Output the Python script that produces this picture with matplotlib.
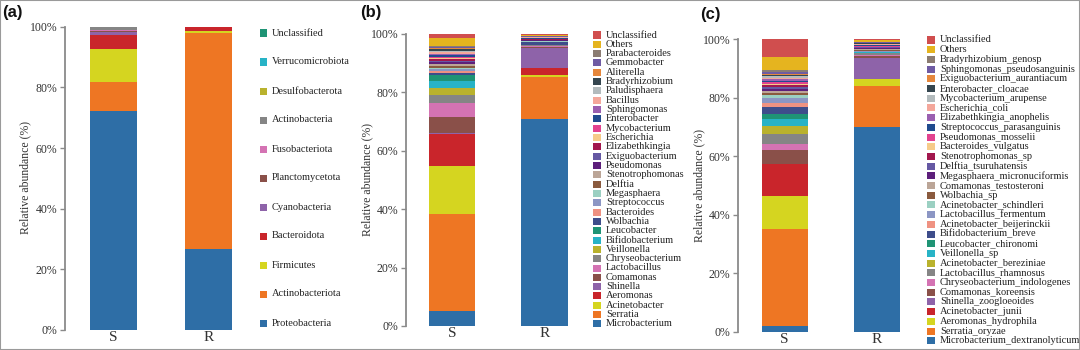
import matplotlib
matplotlib.use("Agg")
import matplotlib.pyplot as plt
from matplotlib.patches import Rectangle
from matplotlib.ticker import FixedLocator, FuncFormatter

samples = ["S", "R"]

# ---------- panel (a): phylum (bottom-up stacking order) ----------
phylum_taxa = ["Proteobacteria", "Actinobacteriota", "Firmicutes", "Bacteroidota",
               "Cyanobacteria", "Planctomycetota", "Fusobacteriota", "Actinobacteria",
               "Desulfobacterota", "Verrucomicrobiota", "Unclassified"]
phylum_S = [72.3, 9.6, 10.9, 4.5, 1.0, 0.4, 0.3, 0.8, 0.1, 0.05, 0.05]
phylum_R = [26.6, 71.4, 0.45, 1.4, 0.04, 0.02, 0.02, 0.03, 0.02, 0.01, 0.01]

# ---------- panel (b): genus ----------
genus_taxa = ["Microbacterium", "Serratia", "Acinetobacter", "Aeromonas", "Shinella",
              "Comamonas", "Lactobacillus", "Chryseobacterium", "Veillonella",
              "Bifidobacterium", "Leucobacter", "Wolbachia", "Bacteroides",
              "Streptococcus", "Megasphaera", "Delftia", "Stenotrophomonas",
              "Pseudomonas", "Exiguobacterium", "Elizabethkingia", "Escherichia",
              "Mycobacterium", "Enterobacter", "Sphingomonas", "Bacillus",
              "Paludisphaera", "Bradyrhizobium", "Aliterella", "Gemmobacter",
              "Parabacteroides", "Others", "Unclassified"]
genus_S = [5.1, 33.3, 16.4, 11.0, 0.2, 5.7, 4.6, 2.7, 2.4, 2.5, 2.1, 0.5, 0.8, 0.6,
           0.5, 0.8, 0.5, 0.8, 0.4, 0.6, 0.3, 0.3, 0.7, 0.4, 0.5, 0.4, 0.7, 0.3,
           0.4, 0.5, 2.5, 1.5]
genus_R = [70.9, 14.3, 0.8, 2.5, 6.6, 0.6, 0.1, 0.4, 0.05, 0.05, 0.05, 0.8, 0.05,
           0.2, 0.05, 0.1, 0.1, 0.2, 0.1, 0.2, 0.05, 0.05, 0.4, 0.15, 0.05, 0.05,
           0.15, 0.05, 0.1, 0.1, 0.4, 0.3]

# ---------- panel (c): species ----------
species_taxa = ["Microbacterium_dextranolyticum", "Serratia_oryzae", "Aeromonas_hydrophila",
                "Acinetobacter_junii", "Shinella_zoogloeoides", "Comamonas_koreensis",
                "Chryseobacterium_indologenes", "Lactobacillus_rhamnosus",
                "Acinetobacter_bereziniae", "Veillonella_sp", "Leucobacter_chironomi",
                "Bifidobacterium_breve", "Acinetobacter_beijerinckii",
                "Lactobacillus_fermentum", "Acinetobacter_schindleri", "Wolbachia_sp",
                "Comamonas_testosteroni", "Megasphaera_micronuciformis",
                "Delftia_tsuruhatensis", "Stenotrophomonas_sp", "Bacteroides_vulgatus",
                "Pseudomonas_mosselii", "Streptococcus_parasanguinis",
                "Elizabethkingia_anophelis", "Escherichia_coli", "Mycobacterium_arupense",
                "Enterobacter_cloacae", "Exiguobacterium_aurantiacum",
                "Sphingomonas_pseudosanguinis", "Bradyrhizobium_genosp", "Others",
                "Unclassified"]
species_S = [2.05, 33.0, 11.3, 10.8, 0.2, 4.7, 2.0, 3.4, 2.7, 2.4, 1.9, 2.3, 1.3, 1.9,
             0.9, 0.7, 0.6, 0.8, 0.8, 0.6, 0.4, 0.4, 0.6, 0.6, 0.4, 0.5, 0.5, 0.4,
             0.7, 0.6, 4.5, 6.05]
species_R = [69.8, 14.1, 2.4, 0.1, 7.2, 0.5, 0.6, 0.5, 0.1, 0.1, 0.1, 0.1, 0.1, 0.1,
             0.1, 0.5, 0.3, 0.1, 0.3, 0.2, 0.1, 0.2, 0.3, 0.2, 0.1, 0.1, 0.3, 0.2,
             0.1, 0.2, 0.4, 0.5]

y_ticks = [0, 20, 40, 60, 80, 100]

palette = ["#2E6EA6", "#EE7623", "#D5D520", "#C9252B", "#8E63A9", "#8A5049",
           "#D473B3", "#858585", "#B9B22D", "#27B3C6", "#1F9475", "#3E4D8B",
           "#EF9282", "#8C96C4", "#9BD0C2", "#8A5A3E", "#BBA597", "#5D1F7B",
           "#6558A3", "#A2174E", "#F6CB89", "#E2438F", "#204B8E", "#9A5FB0",
           "#F4A79B", "#B3BBBD", "#35464F", "#E5873C", "#6F5BA3", "#8B7C72",
           "#E5B41F", "#D04E4E"]

SERIF = "Liberation Serif"
SANS = "Liberation Sans"
W, H = 1080, 350

fig = plt.figure(figsize=(W / 100, H / 100), dpi=100)
fig.patch.set_facecolor("white")


def add_axes_px(left, right, top, bottom):
    return fig.add_axes([left / W, 1 - bottom / H, (right - left) / W, (bottom - top) / H])


def draw_panel(ax, taxa, s_vals, r_vals, width, xlim):
    x = list(range(len(samples)))
    bottoms = [0.0, 0.0]
    for i, name in enumerate(taxa):
        vals = [s_vals[i], r_vals[i]]
        ax.bar(x, vals, width=width, bottom=bottoms, color=palette[i],
               edgecolor="none", linewidth=0)
        bottoms = [bottoms[0] + vals[0], bottoms[1] + vals[1]]
    ax.set_xlim(*xlim)
    ax.set_ylim(0, 100)
    ax.yaxis.set_major_locator(FixedLocator(y_ticks))
    ax.yaxis.set_major_formatter(FuncFormatter(lambda v, p: f"{int(v)}%"))
    ax.set_xticks(x)
    ax.set_xticklabels(samples, fontsize=11, family=SERIF, color="#333333")
    for sp in ["top", "right", "bottom"]:
        ax.spines[sp].set_visible(False)
    ax.spines["left"].set_color("#8a8a8a")
    ax.spines["left"].set_linewidth(1.3)
    ax.tick_params(axis="y", direction="out", length=3.5, width=1, color="#8a8a8a",
                   labelsize=8.5, labelcolor="#333333", pad=2)
    ax.tick_params(axis="x", length=0, pad=1)
    for t in ax.get_yticklabels():
        t.set_family(SERIF)
    ax.patch.set_alpha(0)


def draw_legend(taxa, sq_x, text_x, y0, dy, sq_w=7, sq_h=7, fs=7.5):
    for i, name in enumerate(reversed(taxa)):
        idx = len(taxa) - 1 - i
        yc = y0 + dy * i
        fig.add_artist(Rectangle((sq_x / W, 1 - (yc + sq_h / 2) / H), sq_w / W, sq_h / H,
                                 transform=fig.transFigure, facecolor=palette[idx],
                                 edgecolor="none"))
        fig.text(text_x / W, 1 - yc / H, name, fontsize=fs, family=SERIF,
                 color="#222222", va="center", ha="left")


# panel (a)
ax_a = add_axes_px(65, 245, 26.7, 330)
draw_panel(ax_a, phylum_taxa, phylum_S, phylum_R, 0.495, (-0.51, 1.385))
draw_legend(phylum_taxa, 260, 272, 33, 29, sq_w=7, sq_h=7, fs=7.5)
fig.text(25 / W, 1 - 178 / H, "Relative abundance (%)", rotation=90, fontsize=8.5,
         family=SERIF, color="#333333", ha="center", va="center")
fig.text(2 / W, 1 - 12 / H, "(a)", fontsize=12, fontweight="bold", family=SANS,
         color="#111111", ha="left", va="center")

# panel (b)
ax_b = add_axes_px(406, 575, 34, 326)
draw_panel(ax_b, genus_taxa, genus_S, genus_R, 0.5, (-0.502, 1.331))
draw_legend(genus_taxa, 593, 606, 35, 9.32, sq_w=8, sq_h=7, fs=7.5)
fig.text(367 / W, 1 - 180 / H, "Relative abundance (%)", rotation=90, fontsize=8.5,
         family=SERIF, color="#333333", ha="center", va="center")
fig.text(360 / W, 1 - 13 / H, "(b)", fontsize=12, fontweight="bold", family=SANS,
         color="#111111", ha="left", va="center")

# panel (c)
ax_c = add_axes_px(738, 905, 39, 331.7)
draw_panel(ax_c, species_taxa, species_S, species_R, 0.5, (-0.506, 1.303))
draw_legend(species_taxa, 927, 940, 40, 9.7, sq_w=8, sq_h=7, fs=7.5)
fig.text(699 / W, 1 - 185 / H, "Relative abundance (%)", rotation=90, fontsize=8.5,
         family=SERIF, color="#333333", ha="center", va="center")
fig.text(700 / W, 1 - 15 / H, "(c)", fontsize=12, fontweight="bold", family=SANS,
         color="#111111", ha="left", va="center")

fig.add_artist(Rectangle((0, 0), 1, 1, transform=fig.transFigure, fill=False,
                         edgecolor="#9a9a9a", linewidth=1.5))

fig.savefig("out.png", dpi=100, facecolor="white")
